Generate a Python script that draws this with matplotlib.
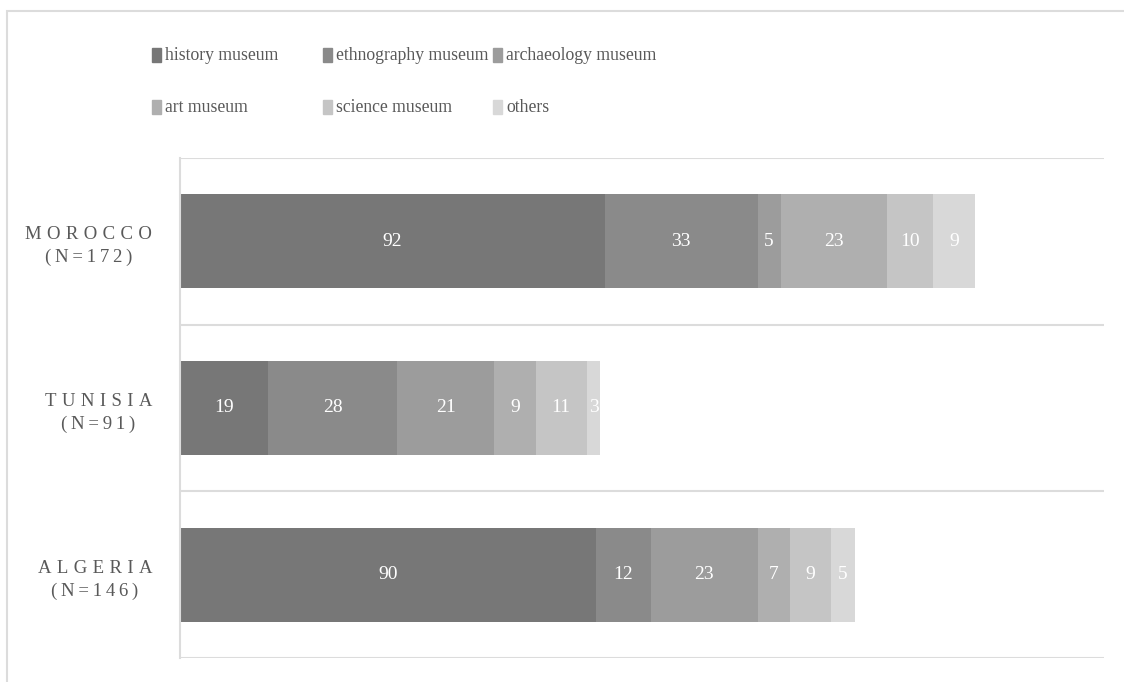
import numpy as np
import matplotlib
matplotlib.use("Agg")
import matplotlib.pyplot as plt
from matplotlib.patches import Rectangle

plt.rcParams['font.family'] = ['Liberation Serif', 'DejaVu Serif']

countries = ["MOROCCO", "TUNISIA", "ALGERIA"]
totals = [172, 91, 146]
series = ["history museum", "ethnography museum", "archaeology museum",
          "art museum", "science museum", "others"]
history = [92, 19, 90]
ethnography = [33, 28, 12]
archaeology = [5, 21, 23]
art = [23, 9, 7]
science = [10, 11, 9]
others = [9, 3, 5]
values = [history, ethnography, archaeology, art, science, others]
colors = ["#777777", "#8a8a8a", "#9c9c9c", "#afafaf", "#c5c5c5", "#d8d8d8"]

W, H = 1124, 682
fig = plt.figure(figsize=(W / 100, H / 100), dpi=100)
ax = fig.add_axes([180 / W, 1 - 658 / H, (1104 - 180) / W, (658 - 158) / H])

# outer frame of the chart (cropped on right and bottom)
fig.patches.append(Rectangle((7 / W, -0.1), 1.2, 1 - 11 / H + 0.1,
                             transform=fig.transFigure, fill=False,
                             edgecolor="#dcdcdc", linewidth=1.5))

ypos = np.arange(len(countries))
left = np.zeros(len(countries))
for name, vals, col in zip(series, values, colors):
    vals = np.array(vals)
    ax.barh(ypos, vals, left=left, height=0.565, color=col, edgecolor="none")
    for y, v, l in zip(ypos, vals, left):
        ax.text(l + v / 2, y, str(v), ha="center", va="center",
                color="white", fontsize=14)
    left = left + vals

ax.set_xlim(0, 200)
ax.set_ylim(2.5, -0.5)

sp = "\u2009\u200a"
labels = [sp.join(c) + "\n" + "\u2009".join("(N=" + str(t) + ")") for c, t in zip(countries, totals)]
ax.set_yticks(ypos)
ax.set_yticklabels(labels, fontsize=13.5, color="#595959", linespacing=1.45)
for lab in ax.get_yticklabels():
    lab.set_multialignment("center")
ax.tick_params(axis="y", length=0, pad=20)
ax.set_xticks([])

for s in ["top", "right", "bottom"]:
    ax.spines[s].set_visible(False)
ax.spines["left"].set_color("#dcdcdc")
ax.spines["left"].set_linewidth(1.5)
for b in [-0.5, 0.5, 1.5, 2.5]:
    ax.axhline(b, color="#dcdcdc", linewidth=1.5, zorder=0)

# legend: 3 columns, 2 rows
col_x = [152, 323, 493]
row_y = [55, 107]
for i, (name, col) in enumerate(zip(series, colors)):
    x = col_x[i % 3]
    y = row_y[i // 3]
    fig.patches.append(Rectangle((x / W, 1 - (y + 7) / H), 9 / W, 14 / H,
                                 transform=fig.transFigure, color=col))
    fig.text((x + 13) / W, 1 - y / H, name, ha="left", va="center",
             fontsize=12.7, color="#595959")

fig.savefig("out.png", dpi=100)
